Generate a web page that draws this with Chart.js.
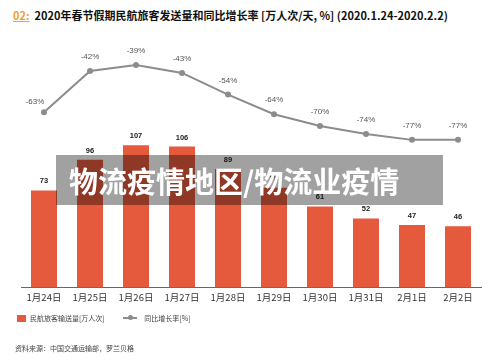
<!DOCTYPE html>
<html>
<head>
<meta charset="utf-8">
<script src="https://cdn.jsdelivr.net/npm/chart.js@4.4.1/dist/chart.umd.min.js"></script>
<style>
    body { margin: 0; width: 500px; height: 361px; background: #fff; position: relative; overflow: hidden; font-family: "Noto Sans CJK SC", sans-serif; }
    #chart-box { position: absolute; left: 0; top: 0; width: 500px; height: 361px; }
    .title { position: absolute; left: 13px; top: 7px; font-size: 11px; line-height: 16px; font-weight: bold; color: #111; white-space: nowrap; }
    .title .num { color: #f0a030; text-decoration: underline; margin-right: 5px; }
    .legend { position: absolute; left: 17px; top: 311px; font-size: 7px; line-height: 12px; color: #444; white-space: nowrap; }
    .legend span { display: inline-block; vertical-align: middle; }
    .swatch { width: 9px; height: 7px; background: #e5593d; margin-right: 4px; }
    .line-key { position: relative; width: 14px; height: 2px; background: #8c8c8c; margin: 0 7px 0 17px; }
    .line-key::after { content: ""; position: absolute; left: 5px; top: -2px; width: 5px; height: 5px; border-radius: 50%; background: #8c8c8c; }
    .source { position: absolute; left: 15px; top: 343px; font-size: 7px; color: #444; white-space: nowrap; }
    .stamp { position: absolute; left: 56px; top: 155px; width: 387px; height: 50px; background: rgba(0, 0, 0, 0.37); }
    .stamp p { margin: 0; position: absolute; left: 13px; top: 6px; font-size: 29px; line-height: 38px; font-weight: bold; color: #fff; white-space: nowrap; }
</style>
</head>
<body>
<div class="title"><span class="num">02:</span>2020年春节假期民航旅客发送量和同比增长率 [万人次/天, %] (2020.1.24-2020.2.2)</div>
<div id="chart-box"><canvas id="flightChart"></canvas></div>
<div class="legend">
    <span class="swatch"></span><span>民航旅客输送量[万人次]</span>
    <span class="line-key"></span><span>同比增长率[%]</span>
</div>
<div class="source">资料来源：中国交通运输部，罗兰贝格</div>
<div class="stamp"><p>物流疫情地区/物流业疫情</p></div>

<script>
const days = ["1月24日", "1月25日", "1月26日", "1月27日", "1月28日", "1月29日", "1月30日", "1月31日", "2月1日", "2月2日"];
const passengers = [73, 96, 107, 106, 89, 75, 61, 52, 47, 46];
const growthRate = [-63, -42, -39, -43, -54, -64, -70, -74, -77, -77];

const barColor = "#e5593d";
const lineColor = "#8c8c8c";

// numbers above bars and line points
const valueLabels = {
    id: "valueLabels",
    afterDatasetsDraw(chart) {
        const ctx = chart.ctx;
        ctx.save();
        ctx.textAlign = "center";
        ctx.textBaseline = "middle";

        ctx.font = "bold 7.5px 'Liberation Sans', Arial, sans-serif";
        ctx.fillStyle = "#222";
        chart.getDatasetMeta(0).data.forEach((bar, i) => {
            ctx.fillText(passengers[i], bar.x, bar.y - 9);
        });

        ctx.font = "8px 'Liberation Sans', Arial, sans-serif";
        ctx.fillStyle = "#555";
        chart.getDatasetMeta(1).data.forEach((pt, i) => {
            if (i === 0) {
                ctx.fillText(growthRate[i] + "%", pt.x - 9, pt.y - 10);
            } else {
                ctx.fillText(growthRate[i] + "%", pt.x, pt.y - 14);
            }
        });
        ctx.restore();
    }
};

const ctx = document.getElementById("flightChart").getContext("2d");

new Chart(ctx, {
    type: "bar",
    data: {
        labels: days,
        datasets: [
            {
                type: "bar",
                label: "民航旅客输送量[万人次]",
                data: passengers,
                backgroundColor: barColor,
                barPercentage: 0.565,
                categoryPercentage: 1,
                yAxisID: "y",
                order: 2
            },
            {
                type: "line",
                label: "同比增长率[%]",
                data: growthRate,
                borderColor: lineColor,
                backgroundColor: lineColor,
                borderWidth: 2,
                pointRadius: 3,
                pointBackgroundColor: lineColor,
                pointBorderWidth: 0,
                tension: 0,
                yAxisID: "y2",
                order: 1
            }
        ]
    },
    options: {
        responsive: true,
        maintainAspectRatio: false,
        animation: false,
        layout: {
            padding: { left: 21, right: 19, top: 40, bottom: 54 }
        },
        plugins: {
            legend: { display: false },
            tooltip: { enabled: false }
        },
        scales: {
            x: {
                grid: { display: false, drawTicks: false },
                border: { display: true, color: "#666", width: 1 },
                ticks: {
                    padding: 4,
                    color: "#333",
                    font: { family: "'Noto Sans CJK SC', sans-serif", size: 9.5 }
                }
            },
            y: {
                display: false,
                min: 0,
                max: 186
            },
            y2: {
                display: false,
                min: -152,
                max: -26.3
            }
        }
    },
    plugins: [valueLabels]
});
</script>
</body>
</html>
